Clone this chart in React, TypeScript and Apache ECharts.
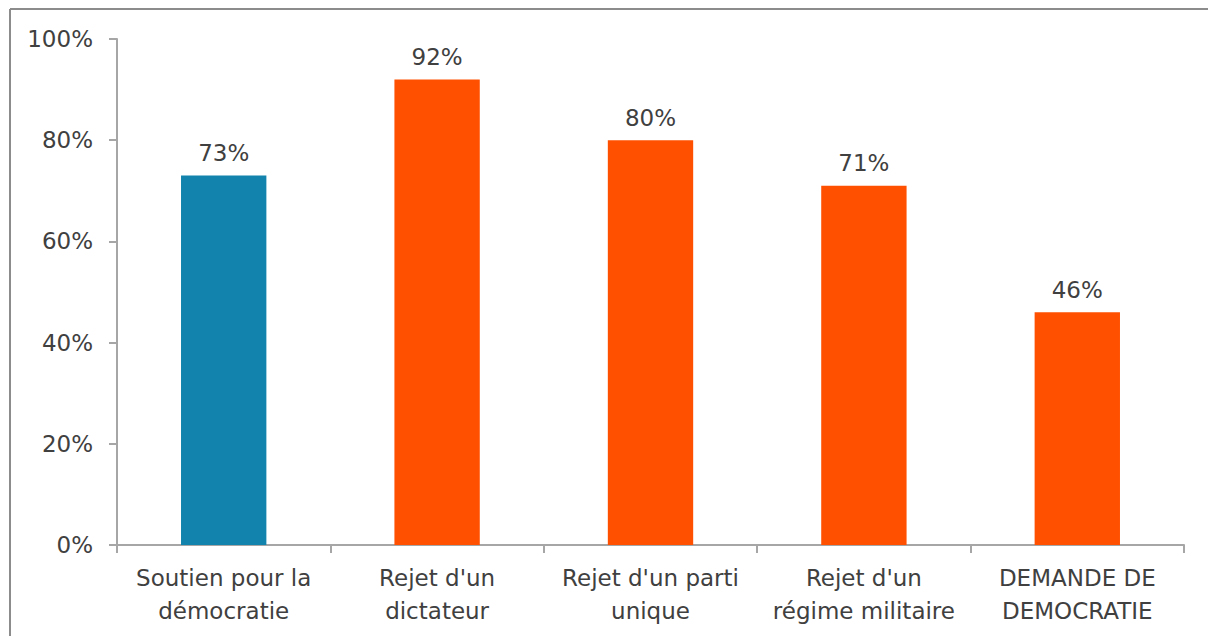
import React, { useEffect, useRef } from "react";
import * as echarts from "echarts";

const categories = [
  "Soutien pour la\ndémocratie",
  "Rejet d'un\ndictateur",
  "Rejet d'un parti\nunique",
  "Rejet d'un\nrégime militaire",
  "DEMANDE DE\nDEMOCRATIE",
];
const values = [73, 92, 80, 71, 46];
const barColors = ["#1183AC", "#FF5000", "#FF5000", "#FF5000", "#FF5000"];

const FONT = "DejaVu Sans";
const TEXT = "#404040";

export default function App() {
  const ref = useRef<HTMLDivElement>(null);
  useEffect(() => {
    const chart = echarts.init(ref.current!, null, { renderer: "svg" });
    chart.setOption({
      animation: false,
      backgroundColor: "#ffffff",
      grid: { left: 117, right: 24, top: 39, bottom: 91, containLabel: false },
      xAxis: {
        type: "category",
        data: categories,
        axisLine: { lineStyle: { color: "#A6A6A6", width: 2 } },
        axisTick: { show: true, length: 8, lineStyle: { color: "#A6A6A6", width: 2 } },
        axisLabel: {
          color: TEXT,
          fontFamily: FONT,
          fontSize: 23,
          lineHeight: 33,
          margin: 16,
          interval: 0,
        },
      },
      yAxis: {
        type: "value",
        min: 0,
        max: 100,
        interval: 20,
        axisLine: { show: true, lineStyle: { color: "#A6A6A6", width: 2 } },
        axisTick: { show: true, length: 8, lineStyle: { color: "#A6A6A6", width: 2 } },
        splitLine: { show: false },
        axisLabel: {
          color: TEXT,
          fontFamily: FONT,
          fontSize: 23,
          margin: 24,
          formatter: "{value}%",
        },
      },
      series: [
        {
          type: "bar",
          data: values.map((v, i) => ({ value: v, itemStyle: { color: barColors[i] } })),
          barWidth: "40%",
          label: {
            show: true,
            position: "top",
            distance: 11,
            formatter: "{c}%",
            color: TEXT,
            fontFamily: FONT,
            fontSize: 23,
          },
        },
      ],
      graphic: [
        {
          type: "line",
          shape: { x1: 10, y1: 9, x2: 1208, y2: 9 },
          style: { stroke: "#8C8C8C", lineWidth: 2 },
        },
        {
          type: "line",
          shape: { x1: 10, y1: 9, x2: 10, y2: 636 },
          style: { stroke: "#8C8C8C", lineWidth: 2 },
        },
      ],
    });
    return () => chart.dispose();
  }, []);
  return (
    <div
      ref={ref}
      style={{ position: "fixed", left: 0, top: 0, width: 1208, height: 636 }}
    />
  );
}
